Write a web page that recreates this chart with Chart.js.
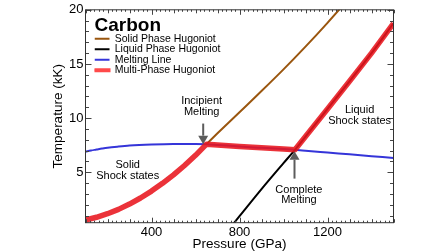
<!DOCTYPE html>
<html><head><meta charset="utf-8">
<script src="https://cdn.jsdelivr.net/npm/chart.js@4.4.0/dist/chart.umd.min.js"></script>
<style>html,body{margin:0;padding:0;background:#fff;overflow:hidden}#wrap{width:448px;height:252px}</style>
</head><body><div id="wrap"><canvas id="c" width="448" height="252"></canvas></div>
<script>
// ---- data ----
const chartTitle = 'Carbon';
const seriesNames = ['Solid Phase Hugoniot', 'Liquid Phase Hugoniot', 'Melting Line', 'Multi-Phase Hugoniot'];
const xTitle = 'Pressure (GPa)';
const yTitle = 'Temperature (kK)';
const xTickLabels = [400, 800, 1200];
const yTickLabels = [5, 10, 15, 20];

const solidP = [650, 700, 800, 900, 1000, 1100, 1200, 1300];
const solidT = [7.6, 8.6, 10.55, 12.5, 14.5, 16.6, 18.8, 21.1];

const liquidP = [760, 800, 900, 1000, 1052, 1100, 1200, 1300, 1400, 1500];
const liquidT = [-0.05, 0.95, 3.45, 5.85, 7.08, 8.3, 10.85, 13.4, 16.0, 18.75];

const meltP = [100, 125, 150, 175, 200, 250, 300, 400, 500, 600, 650, 700, 800, 900, 1000, 1052, 1100, 1200, 1300, 1400, 1500];
const meltT = [6.9, 7.01, 7.1, 7.19, 7.27, 7.38, 7.47, 7.57, 7.62, 7.62, 7.6, 7.53, 7.38, 7.26, 7.15, 7.08, 7.0, 6.83, 6.66, 6.49, 6.32];

const multiP = [100, 150, 200, 250, 300, 350, 400, 450, 500, 550, 600, 650, 700, 800, 900, 1000, 1052, 1100, 1200, 1300, 1400, 1500];
const multiT = [0.6, 0.85, 1.18, 1.58, 2.07, 2.63, 3.27, 3.98, 4.77, 5.63, 6.57, 7.6, 7.53, 7.38, 7.26, 7.15, 7.08, 8.3, 10.85, 13.4, 16.0, 18.75];

const noteTexts = [['Incipient', 'Melting'], ['Complete', 'Melting'], ['Solid', 'Shock states'], ['Liquid', 'Shock states']];

// ---- layout / style (not data) ----
const FONT = "'Liberation Sans', Arial, Helvetica, sans-serif";
const lineColors = ['#9a560f', '#000000', '#3535d9', 'rgba(232,22,30,0.88)'];
const legendColors = ['#9a560f', '#000000', '#3535d9', '#ff4a4a'];
const lineWidths = [2, 2, 2, 5.5];
const smoothModes = ['monotone', 'monotone', 'monotone', 'default'];
const notePos = [
  {p: 628, t: [11.61, 10.55]},
  {p: 1070, t: [3.40, 2.48]},
  {p: 292, t: [5.66, 4.62]},
  {p: 1346, t: [10.78, 9.78]}
];
const arrows = [
  {p: 635, from: 9.5, to: 7.6},
  {p: 1050, from: 4.42, to: 6.95}
];

Chart.defaults.font.family = FONT;
Chart.defaults.color = '#000';

const toXY = (P, T) => P.map((p, i) => ({x: p, y: T[i]}));
const seriesP = [solidP, liquidP, meltP, multiP];
const seriesT = [solidT, liquidT, meltT, multiT];

const datasets = seriesNames.map((name, i) => ({
  label: name,
  data: toXY(seriesP[i], seriesT[i]),
  borderColor: lineColors[i],
  backgroundColor: lineColors[i],
  borderWidth: lineWidths[i],
  pointRadius: 0,
  tension: 0,
  cubicInterpolationMode: smoothModes[i],
  order: i === 3 ? 0 : 1,
  borderJoinStyle: 'round',
  borderCapStyle: 'butt'
}));

const framePlugin = {
  id: 'frameTicksNotes',
  afterLayout(chart) {
    const lg = chart.legend, ca = chart.chartArea;
    if (lg) {
      const w = lg.width, h = lg.height;
      lg.left = ca.left + 9; lg.top = ca.top;
      lg.right = lg.left + w; lg.bottom = lg.top + h;
    }
  },
  afterDatasetsDraw(chart) {
    const ctx = chart.ctx, ca = chart.chartArea;
    const xs = chart.scales.x, ys = chart.scales.y;
    ctx.save();
    // ticks, inward on all four sides
    ctx.strokeStyle = '#444';
    ctx.lineWidth = 1;
    ctx.beginPath();
    for (let v = 100; v <= 1500; v += 20) {
      const px = Math.round(xs.getPixelForValue(v)) + 0.5;
      const len = v % 400 === 0 ? 5 : (v % 100 === 0 ? 3.5 : 2);
      ctx.moveTo(px, ca.bottom); ctx.lineTo(px, ca.bottom - len);
      ctx.moveTo(px, ca.top); ctx.lineTo(px, ca.top + len);
    }
    for (let v = 1; v <= 20; v += 1) {
      const py = Math.round(ys.getPixelForValue(v)) + 0.5;
      const len = v % 5 === 0 ? 6 : 3.5;
      ctx.moveTo(ca.left, py); ctx.lineTo(ca.left + len, py);
      ctx.moveTo(ca.right, py); ctx.lineTo(ca.right - len, py);
    }
    ctx.stroke();
    // frame
    ctx.strokeStyle = '#333';
    ctx.strokeRect(ca.left, ca.top, ca.right - ca.left, ca.bottom - ca.top);
    // arrows
    ctx.strokeStyle = '#5c5c5c';
    ctx.fillStyle = '#5c5c5c';
    arrows.forEach(a => {
      const x = xs.getPixelForValue(a.p);
      const y0 = ys.getPixelForValue(a.from), y1 = ys.getPixelForValue(a.to);
      const dir = Math.sign(y1 - y0);
      const headL = 8.5, headW = 5;
      ctx.lineWidth = 2;
      ctx.beginPath(); ctx.moveTo(x, y0); ctx.lineTo(x, y1 - dir * headL); ctx.stroke();
      ctx.beginPath();
      ctx.moveTo(x, y1); ctx.lineTo(x - headW, y1 - dir * headL); ctx.lineTo(x + headW, y1 - dir * headL);
      ctx.closePath(); ctx.fill();
    });
    // notes
    ctx.fillStyle = '#000';
    ctx.font = '11px ' + FONT;
    ctx.textAlign = 'center';
    ctx.textBaseline = 'middle';
    noteTexts.forEach((lines, i) => {
      const x = xs.getPixelForValue(notePos[i].p);
      lines.forEach((s, j) => ctx.fillText(s, x, ys.getPixelForValue(notePos[i].t[j])));
    });
    ctx.restore();
  }
};

new Chart(document.getElementById('c'), {
  type: 'line',
  data: {datasets},
  options: {
    responsive: false,
    animation: false,
    devicePixelRatio: 1,
    layout: {padding: {top: 5.7, right: 54.5, bottom: 0, left: 0}},
    plugins: {
      tooltip: {enabled: false},
      title: {display: false},
      legend: {
        display: true,
        position: 'chartArea',
        align: 'start',
        title: {display: true, text: chartTitle, position: 'start', color: '#000',
                font: {size: 19, weight: 'bold', lineHeight: 0.8}, padding: {top: 6.3, bottom: 2.2}},
        labels: {
          boxWidth: 15, boxHeight: 2, padding: 0, color: '#000',
          font: {size: 10.5},
          generateLabels(chart) {
            return chart.data.datasets.map((ds, i) => ({
              text: ds.label, fillStyle: legendColors[i], strokeStyle: legendColors[i],
              lineWidth: i === 3 ? 2 : 0, hidden: false, datasetIndex: i, fontColor: '#000'
            }));
          }
        }
      }
    },
    scales: {
      x: {
        type: 'linear', min: 100, max: 1500,
        grid: {display: false, drawTicks: false},
        border: {display: false},
        afterBuildTicks: s => { s.ticks = xTickLabels.map(v => ({value: v})); },
        ticks: {padding: 2, font: {size: 13}, color: '#000', autoSkip: false, maxRotation: 0,
                callback: v => String(v)},
        title: {display: true, text: xTitle, font: {size: 13.5}, color: '#000', padding: 0},
        afterFit: s => { s.height = 29.3; }
      },
      y: {
        type: 'linear', min: 0.35, max: 20,
        grid: {display: false, drawTicks: false},
        border: {display: false},
        afterBuildTicks: s => { s.ticks = yTickLabels.map(v => ({value: v})); },
        ticks: {padding: 2, font: {size: 13}, color: '#000', autoSkip: false, callback: v => String(v)},
        title: {display: true, text: yTitle, font: {size: 13.5}, color: '#000', padding: {top: 50, bottom: 0}},
        afterFit: s => { s.width = 85.5; }
      }
    }
  },
  plugins: [framePlugin]
});
</script>
</body></html>
